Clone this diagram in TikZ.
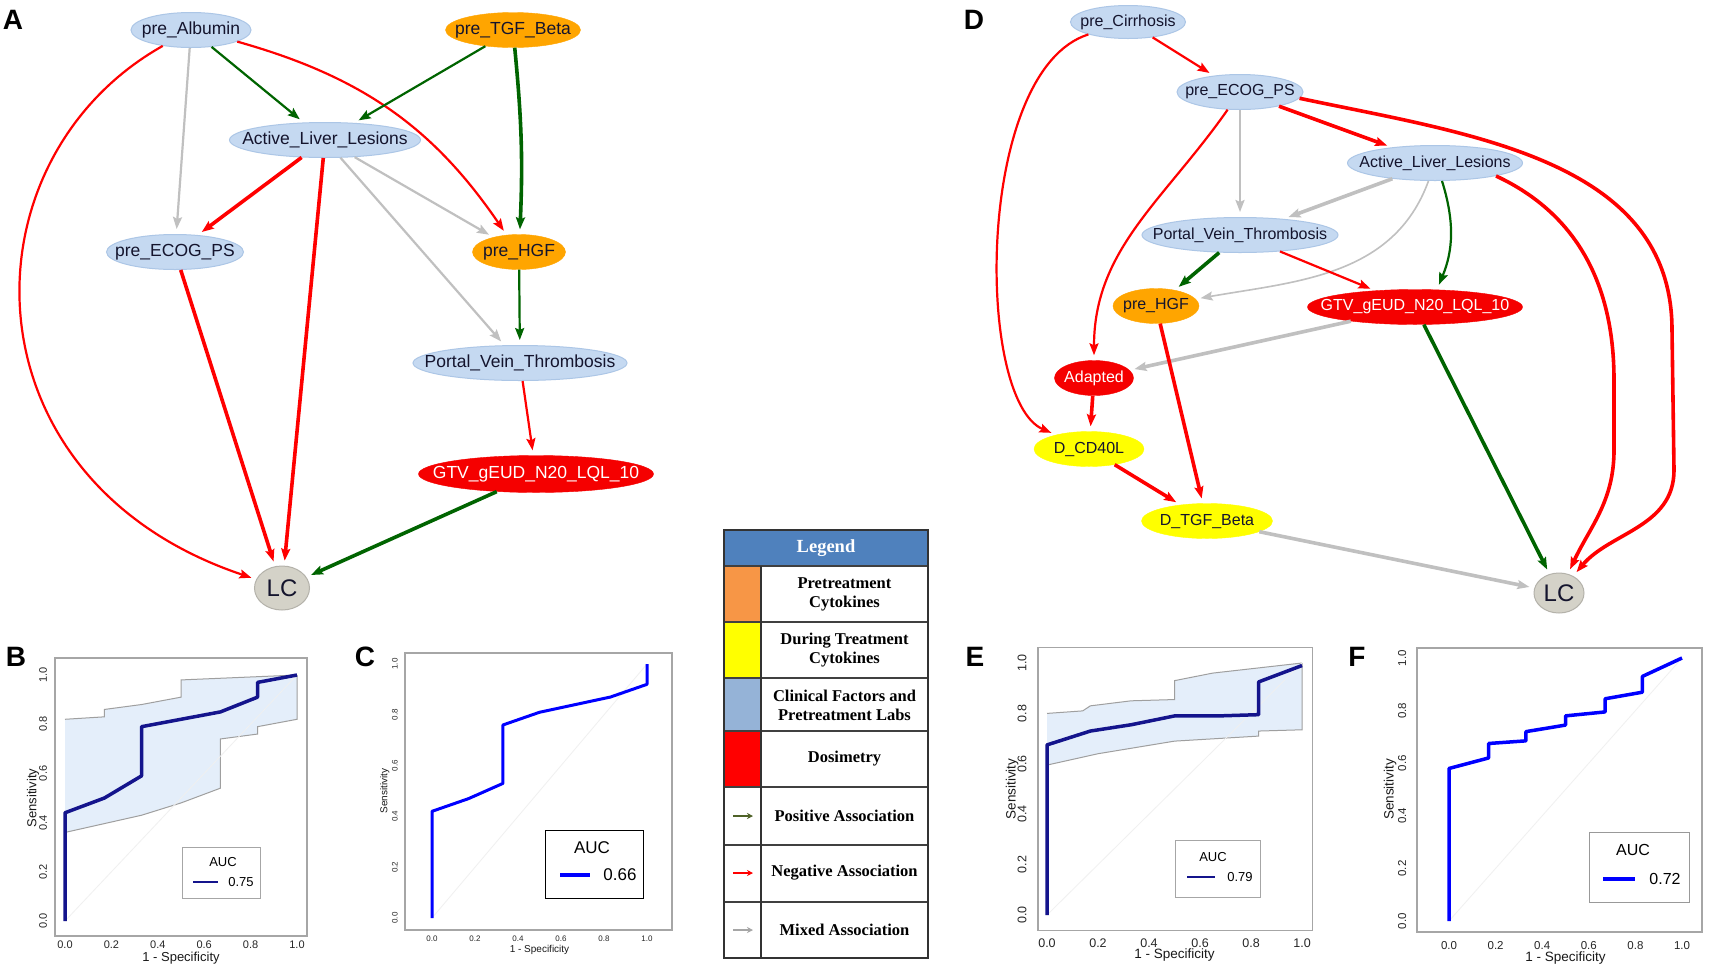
\documentclass[tikz,border=0pt]{standalone}
\usepackage{fontspec}
\setmainfont{Liberation Sans}
\newfontfamily\legendfont{Liberation Serif}
\usetikzlibrary{shapes.geometric,arrows.meta}

\definecolor{clin}{RGB}{197,217,241}
\definecolor{clinedge}{RGB}{172,198,230}
\definecolor{pretc}{RGB}{255,165,0}
\definecolor{dose}{RGB}{245,0,0}
\definecolor{during}{RGB}{255,255,0}
\definecolor{outc}{RGB}{212,210,200}
\definecolor{posc}{RGB}{0,100,0}
\definecolor{negc}{RGB}{255,0,0}
\definecolor{mixc}{RGB}{192,192,192}
\definecolor{legblue}{RGB}{79,129,189}
\definecolor{legorange}{RGB}{247,150,70}
\definecolor{legclin}{RGB}{149,179,215}
\definecolor{legpos}{RGB}{79,98,40}
\definecolor{rocnavy}{RGB}{20,20,140}
\definecolor{rocblue}{RGB}{0,0,255}
\definecolor{ciband}{RGB}{228,238,250}
\definecolor{nodetext}{RGB}{20,20,45}

\tikzset{
  varnode/.style={ellipse,inner xsep=-40pt,inner ysep=0pt,minimum height=35,
    text=nodetext,font=\fontsize{17.5}{20}\selectfont},
  clinical/.style={varnode,fill=clin,draw=clinedge,line width=1pt},
  precyto/.style={varnode,fill=pretc,draw=pretc},
  durcyto/.style={varnode,fill=during,draw=during},
  dosim/.style={varnode,fill=dose,draw=dose,text=white},
  outcome/.style={varnode,fill=outc,draw=outc!85!black,line width=1pt,
    font=\fontsize{24}{26}\selectfont},
  assoc/.style={line width=2.2pt,shorten >=5pt,
    -{Stealth[length=12pt,width=9pt,inset=2pt]}},
  posarrow/.style={assoc,draw=posc},
  negarrow/.style={assoc,draw=negc},
  mixarrow/.style={assoc,draw=mixc},
  heavy/.style={line width=3.6pt},
  light/.style={line width=1.6pt},
  panel/.style={font=\bfseries\fontsize{28}{28}\selectfont},
  legtext/.style={font=\legendfont\bfseries\fontsize{16.5}{19}\selectfont,align=center},
  plotbox/.style={draw=gray!70,line width=1.2pt},
  chance/.style={draw=gray!12,line width=0.8pt},
  ticklabel/.style={text=gray!30!black,inner sep=0pt},
  axtitle/.style={text=gray!20!black,inner sep=0pt},
  cibound/.style={draw=gray!75,line width=1pt},
  roccurve/.style={line width=3.5pt,line join=round},
  aucbox/.style={draw=gray!70,line width=1pt}
}

\begin{document}
\begin{tikzpicture}[x=1pt,y=-1pt]
\useasboundingbox[fill=white] (0,0) rectangle (1716,970);

% ---------------- A: network
\node[panel] (labA) at (13,20) {A};
\node[clinical,minimum width=120] (albA) at (191,30) {pre\_Albumin};
\node[precyto,minimum width=135] (tgfA) at (513,30) {pre\_TGF\_Beta};
\node[clinical,minimum width=191] (allA) at (325,140) {Active\_Liver\_Lesions};
\node[clinical,minimum width=137] (ecogA) at (175,252) {pre\_ECOG\_PS};
\node[precyto,minimum width=93] (hgfA) at (519,252) {pre\_HGF};
\node[clinical,minimum width=214] (pvtA) at (520,363) {Portal\_Vein\_Thrombosis};
\node[dosim,minimum width=235,minimum height=37] (gtvA) at (536,474) {GTV\_gEUD\_N20\_LQL\_10};
\node[outcome,minimum width=55,minimum height=44] (lcA) at (282,588) {LC};

\draw[negarrow] (albA) .. controls (-40,160) and (-40,480) .. (lcA);
\draw[mixarrow] (albA) -- (ecogA);
\draw[posarrow] (albA) -- (allA);
\draw[negarrow] (albA) to[bend left=20] (hgfA);
\draw[posarrow] (tgfA) -- (allA);
\draw[posarrow,heavy] (tgfA) to[bend left=4] (hgfA);
\draw[negarrow,heavy] (allA) -- (ecogA);
\draw[negarrow,heavy] (allA) -- (lcA);
\draw[mixarrow] (allA) -- (hgfA);
\draw[mixarrow] (allA) -- (pvtA);
\draw[negarrow,heavy] (ecogA) -- (lcA);
\draw[posarrow] (hgfA) -- (pvtA);
\draw[negarrow] (pvtA) -- (gtvA);
\draw[posarrow,heavy] (gtvA) -- (lcA);

% ---------------- D: network
\begin{scope}[varnode/.append style={font=\fontsize{16}{18}\selectfont}]
\node[panel] (labD) at (974,20) {D};
\node[clinical,minimum width=115,minimum height=33] (cirD) at (1128,22) {pre\_Cirrhosis};
\node[clinical,minimum width=126] (ecogD) at (1240,92) {pre\_ECOG\_PS};
\node[clinical,minimum width=175] (allD) at (1435,163) {Active\_Liver\_Lesions};
\node[clinical,minimum width=196] (pvtD) at (1240,235) {Portal\_Vein\_Thrombosis};
\node[precyto,minimum width=86] (hgfD) at (1156,306) {pre\_HGF};
\node[dosim,minimum width=215] (gtvD) at (1415,307) {GTV\_gEUD\_N20\_LQL\_10};
\node[dosim,minimum width=79] (adaD) at (1094,378) {Adapted};
\node[durcyto,minimum width=110] (cd40D) at (1089,449) {D\_CD40L};
\node[durcyto,minimum width=131] (tgfD) at (1207,521) {D\_TGF\_Beta};
\node[outcome,minimum width=50,minimum height=40] (lcD) at (1559,593) {LC};
\end{scope}

\draw[negarrow] (cirD) -- (ecogD);
\draw[negarrow] (cirD) .. controls (975,70) and (975,400) .. (cd40D);
\draw[negarrow,heavy] (ecogD) -- (allD);
\draw[negarrow,heavy] (ecogD.-6) to[out=-12,in=90] (1672,330) -- (1674,470) to[out=-90,in=50] (lcD);
\draw[mixarrow] (ecogD) -- (pvtD);
\draw[negarrow] (ecogD) to[out=235,in=90] (adaD);
\draw[negarrow,heavy] (allD.-12) to[out=-25,in=90] (1614,380) -- (1614,450) to[out=-90,in=65] (lcD);
\draw[mixarrow,heavy] (allD) -- (pvtD);
\draw[mixarrow,light] (allD) to[out=250,in=10] (hgfD);
\draw[posarrow] ([xshift=7]allD.south) to[bend left=20] ([xshift=22]gtvD.north);
\draw[posarrow,heavy] (pvtD) -- (hgfD);
\draw[negarrow] (pvtD) -- (gtvD);
\draw[mixarrow,heavy] (gtvD) -- (adaD);
\draw[posarrow,heavy] (gtvD) -- (lcD);
\draw[negarrow,heavy] (hgfD) -- (tgfD);
\draw[negarrow,heavy] (adaD) -- (cd40D);
\draw[negarrow,heavy] (cd40D) -- (tgfD);
\draw[mixarrow,heavy] (tgfD) -- (lcD);

% ---------------- legend
\fill[legblue] (724,530) rectangle (928,566);
\fill[legorange] (724,566) rectangle (761,622);
\fill[during] (724,622) rectangle (761,678);
\fill[legclin] (724,678) rectangle (761,731);
\fill[negc] (724,731) rectangle (761,787);
\foreach \yy in {566,622,678,731,787,845,902}
  \draw[line width=1.3pt,black!75] (724,\yy) -- (928,\yy);
\draw[line width=1.3pt,black!80] (761,566) -- (761,958);
\draw[line width=1.5pt,black!80] (724,530) rectangle (928,958);
\node[legtext,text=white,font=\legendfont\bfseries\fontsize{18.5}{20}\selectfont] (legT) at (826,548) {Legend};
\node[legtext] (leg1) at (844.5,594) {Pretreatment\\Cytokines};
\node[legtext] (leg2) at (844.5,650) {During Treatment\\Cytokines};
\node[legtext] (leg3) at (844.5,705) {Clinical Factors and\\Pretreatment Labs};
\node[legtext] (leg4) at (844.5,759) {Dosimetry};
\node[legtext] (leg5) at (844.5,816) {Positive Association};
\node[legtext] (leg6) at (844.5,873) {Negative Association};
\node[legtext] (leg7) at (844.5,930) {Mixed Association};
\draw[legpos,line width=1.3pt,-{Stealth[length=6pt,width=6pt]}] (733,816) -- (753,816);
\draw[negc,line width=1.3pt,-{Stealth[length=6pt,width=6pt]}] (733,873) -- (753,873);
\draw[gray!70,line width=1.3pt,-{Stealth[length=6pt,width=6pt]}] (733,930) -- (753,930);

% ---------------- ROC panels
\def\rocframe{%
  \draw[chance] (0,0) -- (1,1);
  \draw[plotbox] (\xmn,\ymn) rectangle (\xmx,\ymx);
  \foreach \tk in {0.0,0.2,0.4,0.6,0.8,1.0}{
    \node[ticklabel] at ([yshift=-\tkb]\tk,\ymn) {\tk};
    \node[ticklabel,rotate=90] at ([xshift=-\tkl]\xmn,\tk) {\tk};
  }
  \node[axtitle] at ([yshift=-\ttb]0.5,\ymn) {1 - Specificity};
  \node[axtitle,rotate=90] at ([xshift=-\ttl]\xmn,0.5) {Sensitivity};
}

% B
\node[panel] (labB) at (16,657) {B};
\begin{scope}[shift={(65,921)},x=232pt,y=246pt]
  \def\xmn{-0.043}\def\xmx{1.043}\def\ymn{-0.061}\def\ymx{1.069}
  \def\tkb{9pt}\def\tkl{12pt}\def\ttb{22pt}\def\ttl{22pt}
  \tikzset{ticklabel/.append style={font=\fontsize{11}{11}\selectfont},
    axtitle/.append style={font=\fontsize{13}{13}\selectfont}}
  \fill[ciband] (0,0.82) -- (0.17,0.83) -- (0.17,0.86) -- (0.33,0.88) -- (0.5,0.91) -- (0.5,0.98) -- (1,1)
    -- (1,0.82) -- (0.83,0.79) -- (0.83,0.76) -- (0.67,0.74) -- (0.67,0.54) -- (0.5,0.48) -- (0.33,0.43) -- (0,0.36) -- cycle;
  \draw[cibound] (0,0.82) -- (0.17,0.83) -- (0.17,0.86) -- (0.33,0.88) -- (0.5,0.91) -- (0.5,0.98) -- (1,1);
  \draw[cibound] (0,0.36) -- (0.33,0.43) -- (0.5,0.48) -- (0.67,0.54) -- (0.67,0.74) -- (0.83,0.76) -- (0.83,0.79) -- (1,0.82) -- (1,1);
  \rocframe
  \draw[roccurve,draw=rocnavy] (0,0) -- (0,0.44) -- (0.17,0.5) -- (0.33,0.59) -- (0.33,0.79) -- (0.5,0.82)
    -- (0.67,0.85) -- (0.83,0.91) -- (0.83,0.97) -- (1,1);
\end{scope}
\draw[aucbox] (182,847) rectangle (260,898);
\node[font=\fontsize{13}{13}\selectfont] (aucB) at (223,862) {AUC};
\draw[rocnavy,line width=2.5pt] (193,882) -- (218,882);
\node[font=\fontsize{13}{13}\selectfont] (valB) at (241,882) {0.75};

% C
\node[panel] (labC) at (365,657) {C};
\begin{scope}[shift={(432,918)},x=215pt,y=254pt]
  \def\xmn{-0.126}\def\xmx{1.116}\def\ymn{-0.047}\def\ymx{1.043}
  \def\tkb{9pt}\def\tkl{10pt}\def\ttb{20pt}\def\ttl{20pt}
  \tikzset{ticklabel/.append style={font=\fontsize{8}{8}\selectfont},
    axtitle/.append style={font=\fontsize{10}{10}\selectfont}}
  \rocframe
  \draw[roccurve,draw=rocblue,line width=3pt] (0,0) -- (0,0.42) -- (0.17,0.47) -- (0.33,0.53) -- (0.33,0.76) -- (0.5,0.81)
    -- (0.83,0.87) -- (1,0.92) -- (1,1);
\end{scope}
\draw[black,line width=1pt] (545,830) rectangle (643,898);
\node[font=\fontsize{17}{17}\selectfont] (aucC) at (592,848) {AUC};
\draw[rocblue,line width=4pt] (560,875) -- (590,875);
\node[font=\fontsize{17}{17}\selectfont] (valC) at (620,875) {0.66};

% E
\node[panel] (labE) at (975,657) {E};
\begin{scope}[shift={(1047,915)},x=255pt,y=252pt]
  \def\xmn{-0.035}\def\xmx{1.04}\def\ymn{-0.06}\def\ymx{1.063}
  \def\tkb{13pt}\def\tkl{16pt}\def\ttb{25pt}\def\ttl{26pt}
  \tikzset{ticklabel/.append style={font=\fontsize{12.5}{12.5}\selectfont},
    axtitle/.append style={font=\fontsize{13.5}{13.5}\selectfont}}
  \fill[ciband] (0,0.8) -- (0.14,0.81) -- (0.17,0.83) -- (0.33,0.85) -- (0.5,0.855) -- (0.5,0.93) -- (0.65,0.96) -- (1,1)
    -- (1,0.735) -- (0.83,0.73) -- (0.83,0.71) -- (0.5,0.69) -- (0.2,0.64) -- (0,0.595) -- cycle;
  \draw[cibound] (0,0.8) -- (0.14,0.81) -- (0.17,0.83) -- (0.33,0.85) -- (0.5,0.855) -- (0.5,0.93) -- (0.65,0.96) -- (1,1);
  \draw[cibound] (0,0.595) -- (0.2,0.64) -- (0.5,0.69) -- (0.83,0.71) -- (0.83,0.73) -- (1,0.735) -- (1,1);
  \rocframe
  \draw[roccurve,draw=rocnavy] (0,0) -- (0,0.675) -- (0.17,0.73) -- (0.33,0.755) -- (0.5,0.79) -- (0.67,0.79)
    -- (0.83,0.795) -- (0.83,0.925) -- (1,0.99);
\end{scope}
\draw[aucbox] (1175,840) rectangle (1260,897);
\node[font=\fontsize{13}{13}\selectfont] (aucE) at (1213,857) {AUC};
\draw[rocnavy,line width=2.5pt] (1187,877) -- (1215,877);
\node[font=\fontsize{13}{13}\selectfont] (valE) at (1240,877) {0.79};

% F
\node[panel] (labF) at (1357,657) {F};
\begin{scope}[shift={(1449,921)},x=233pt,y=263pt]
  \def\xmn{-0.137}\def\xmx{1.086}\def\ymn{-0.042}\def\ymx{1.038}
  \def\tkb{13pt}\def\tkl{15pt}\def\ttb{26pt}\def\ttl{27pt}
  \tikzset{ticklabel/.append style={font=\fontsize{11.5}{11.5}\selectfont},
    axtitle/.append style={font=\fontsize{13.5}{13.5}\selectfont}}
  \rocframe
  \draw[roccurve,draw=rocblue] (0,0) -- (0,0.58) -- (0.17,0.62) -- (0.17,0.675) -- (0.33,0.685) -- (0.33,0.72)
    -- (0.5,0.745) -- (0.5,0.78) -- (0.67,0.795) -- (0.67,0.845) -- (0.83,0.87) -- (0.83,0.93) -- (1,1);
\end{scope}
\draw[aucbox,draw=gray!80] (1589,832) rectangle (1689,902);
\node[font=\fontsize{16}{16}\selectfont] (aucF) at (1633,850) {AUC};
\draw[rocblue,line width=3.5pt] (1603,879) -- (1635,879);
\node[font=\fontsize{16}{16}\selectfont] (valF) at (1665,879) {0.72};
\end{tikzpicture}
\end{document}
